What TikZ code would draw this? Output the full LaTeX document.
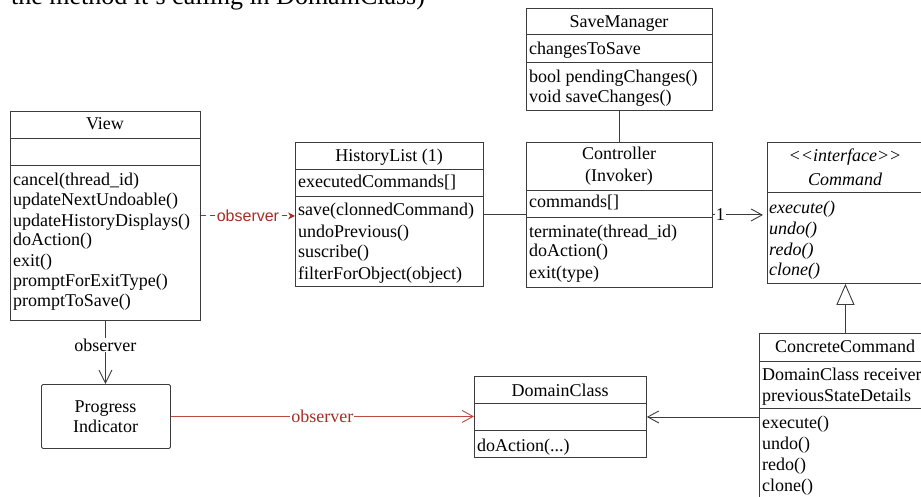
\documentclass[tikz,border=0pt]{standalone}
\usepackage{fontspec}
\setmainfont{Liberation Serif}
\newfontfamily\sansf{Liberation Sans}
\usetikzlibrary{arrows.meta}
\definecolor{linec}{RGB}{60,60,60}
\definecolor{redc}{RGB}{165,45,38}
\definecolor{redl}{RGB}{185,75,65}
\tikzset{
  cls/.style={draw=linec, line width=0.9pt, fill=white, inner sep=0pt, anchor=north west},
  txt/.style={anchor=base west, inner sep=0pt, font=\fontsize{18}{20}\selectfont},
  ttl/.style={anchor=base, inner sep=0pt, font=\fontsize{18}{20}\selectfont},
  itxt/.style={txt, font=\fontsize{18}{20}\selectfont\itshape},
  ittl/.style={ttl, font=\fontsize{18}{20}\selectfont\itshape},
  sep/.style={draw=linec, line width=0.9pt},
  conn/.style={draw=linec, line width=0.9pt},
  openarrow/.style={-{Straight Barb[length=11pt,width=12pt,line width=0.9pt]}},
  lbl/.style={fill=white, inner sep=1pt, font=\fontsize{18}{20}\selectfont},
}
\begin{document}
\begin{tikzpicture}[x=1pt,y=-1pt]
\useasboundingbox (0,0) rectangle (921,497);

% top note (cropped)
\node[anchor=base west, inner sep=0pt, font=\fontsize{26}{30}\selectfont] (note) at (11,5) {the method it's calling in DomainClass)};

% View
\node[cls, minimum width=190, minimum height=209] (view) at (10,111) {};
\draw[sep] (10,138) -- (200,138);
\draw[sep] (10,165) -- (200,165);
\node[ttl] (viewt) at (105,130) {View};
\node[txt] (v1) at (13,186) {cancel(thread\_id)};
\node[txt] (v2) at (13,206) {updateNextUndoable()};
\node[txt] (v3) at (13,226) {updateHistoryDisplays()};
\node[txt] (v4) at (13,246) {doAction()};
\node[txt] (v5) at (13,266) {exit()};
\node[txt] (v6) at (13,286) {promptForExitType()};
\node[txt] (v7) at (13,306) {promptToSave()};

% HistoryList
\node[cls, minimum width=188, minimum height=144] (hist) at (295,142) {};
\draw[sep] (295,169) -- (483,169);
\draw[sep] (295,196) -- (483,196);
\node[ttl] (histt) at (389,162) {HistoryList (1)};
\node[txt] (h0) at (298,188) {executedCommands[]};
\node[txt] (h1) at (298,216) {save(clonnedCommand)};
\node[txt] (h2) at (298,237) {undoPrevious()};
\node[txt] (h3) at (298,258) {suscribe()};
\node[txt] (h4) at (298,279) {filterForObject(object)};

% SaveManager
\node[cls, minimum width=186, minimum height=102] (save) at (526,8) {};
\draw[sep] (526,34) -- (712,34);
\draw[sep] (526,62) -- (712,62);
\node[ttl] (savet) at (619,28) {SaveManager};
\node[txt] (s0) at (529,55) {changesToSave};
\node[txt] (s1) at (529,83) {bool pendingChanges()};
\node[txt] (s2) at (529,103) {void saveChanges()};

% Controller
\node[cls, minimum width=186, minimum height=145] (ctrl) at (526,142) {};
\draw[sep] (526,190) -- (712,190);
\draw[sep] (526,217) -- (712,217);
\node[ttl] (ctrlt1) at (619,160) {Controller};
\node[ttl] (ctrlt2) at (619,182) {(Invoker)};
\node[txt] (c0) at (529,208) {commands[]};
\node[txt] (c1) at (529,237) {terminate(thread\_id)};
\node[txt] (c2) at (529,257) {doAction()};
\node[txt] (c3) at (529,278) {exit(type)};

% Command interface
\node[cls, minimum width=156, minimum height=141] (cmd) at (767,142) {};
\draw[sep] (767,192) -- (923,192);
\node[ittl] (cmdt1) at (845,162) {{<}{<}interface{>}{>}};
\node[ittl] (cmdt2) at (845,186) {Command};
\node[itxt] (m1) at (769,214) {execute()};
\node[itxt] (m2) at (769,235) {undo()};
\node[itxt] (m3) at (769,255) {redo()};
\node[itxt] (m4) at (769,276) {clone()};

% ConcreteCommand
\node[cls, minimum width=172, minimum height=177] (conc) at (759,333) {};
\draw[sep] (759,361) -- (931,361);
\draw[sep] (759,408) -- (931,408);
\node[ttl] (conct) at (845,352) {ConcreteCommand};
\node[txt] (k0) at (762,380) {DomainClass receiver};
\node[txt] (k1) at (762,401) {previousStateDetails};
\node[txt] (k2) at (762,428) {execute()};
\node[txt] (k3) at (762,449) {undo()};
\node[txt] (k4) at (762,470) {redo()};
\node[txt] (k5) at (762,491) {clone()};

% DomainClass
\node[cls, minimum width=172, minimum height=81] (dom) at (474,376) {};
\draw[sep] (474,403) -- (646,403);
\draw[sep] (474,430) -- (646,430);
\node[ttl] (domt) at (560,396) {DomainClass};
\node[txt] (d1) at (477,451) {doAction(...)};

% Progress Indicator
\node[cls, rounded corners=1.5pt, minimum width=129, minimum height=64] (prog) at (41,384) {};
\node[ttl] (p1) at (105.5,412) {Progress};
\node[ttl] (p2) at (105.5,432) {Indicator};

% connectors
\draw[draw=redc, line width=0.9pt, dash pattern=on 5pt off 4pt, -{Stealth[length=7pt,width=7pt]}]
  (view.east) -- (view.east -| hist.west)
  node[midway, fill=white, inner sep=1pt, text=redc, font=\sansf\fontsize{16}{18}\selectfont] (obs1) {observer};
\draw[conn] (hist.east) -- (hist.east -| ctrl.west);
\draw[conn] (save.south) -- (save.south |- ctrl.north);
\draw[conn, openarrow, shorten >=4pt] (ctrl.east) -- (ctrl.east -| cmd.west)
  node[pos=0.14, lbl] (one) {1};
\draw[conn, -{Triangle[open, length=21pt, width=18pt, line width=0.9pt]}, fill=white] (conc.north) -- (conc.north |- cmd.south);
\draw[conn, openarrow] (dom.east -| conc.west) -- (dom.east);
\draw[conn, -{Straight Barb[length=13pt,width=13pt,line width=0.9pt]}] (view.south) -- (view.south |- prog.north)
  node[pos=0.38, lbl] (obs2) {observer};
\draw[draw=redl, line width=0.9pt, -{Straight Barb[length=11pt,width=12pt,line width=0.9pt]}] (prog.east) -- (prog.east -| dom.west)
  node[midway, lbl, text=redc] (obs3) {observer};
\end{tikzpicture}
\end{document}
